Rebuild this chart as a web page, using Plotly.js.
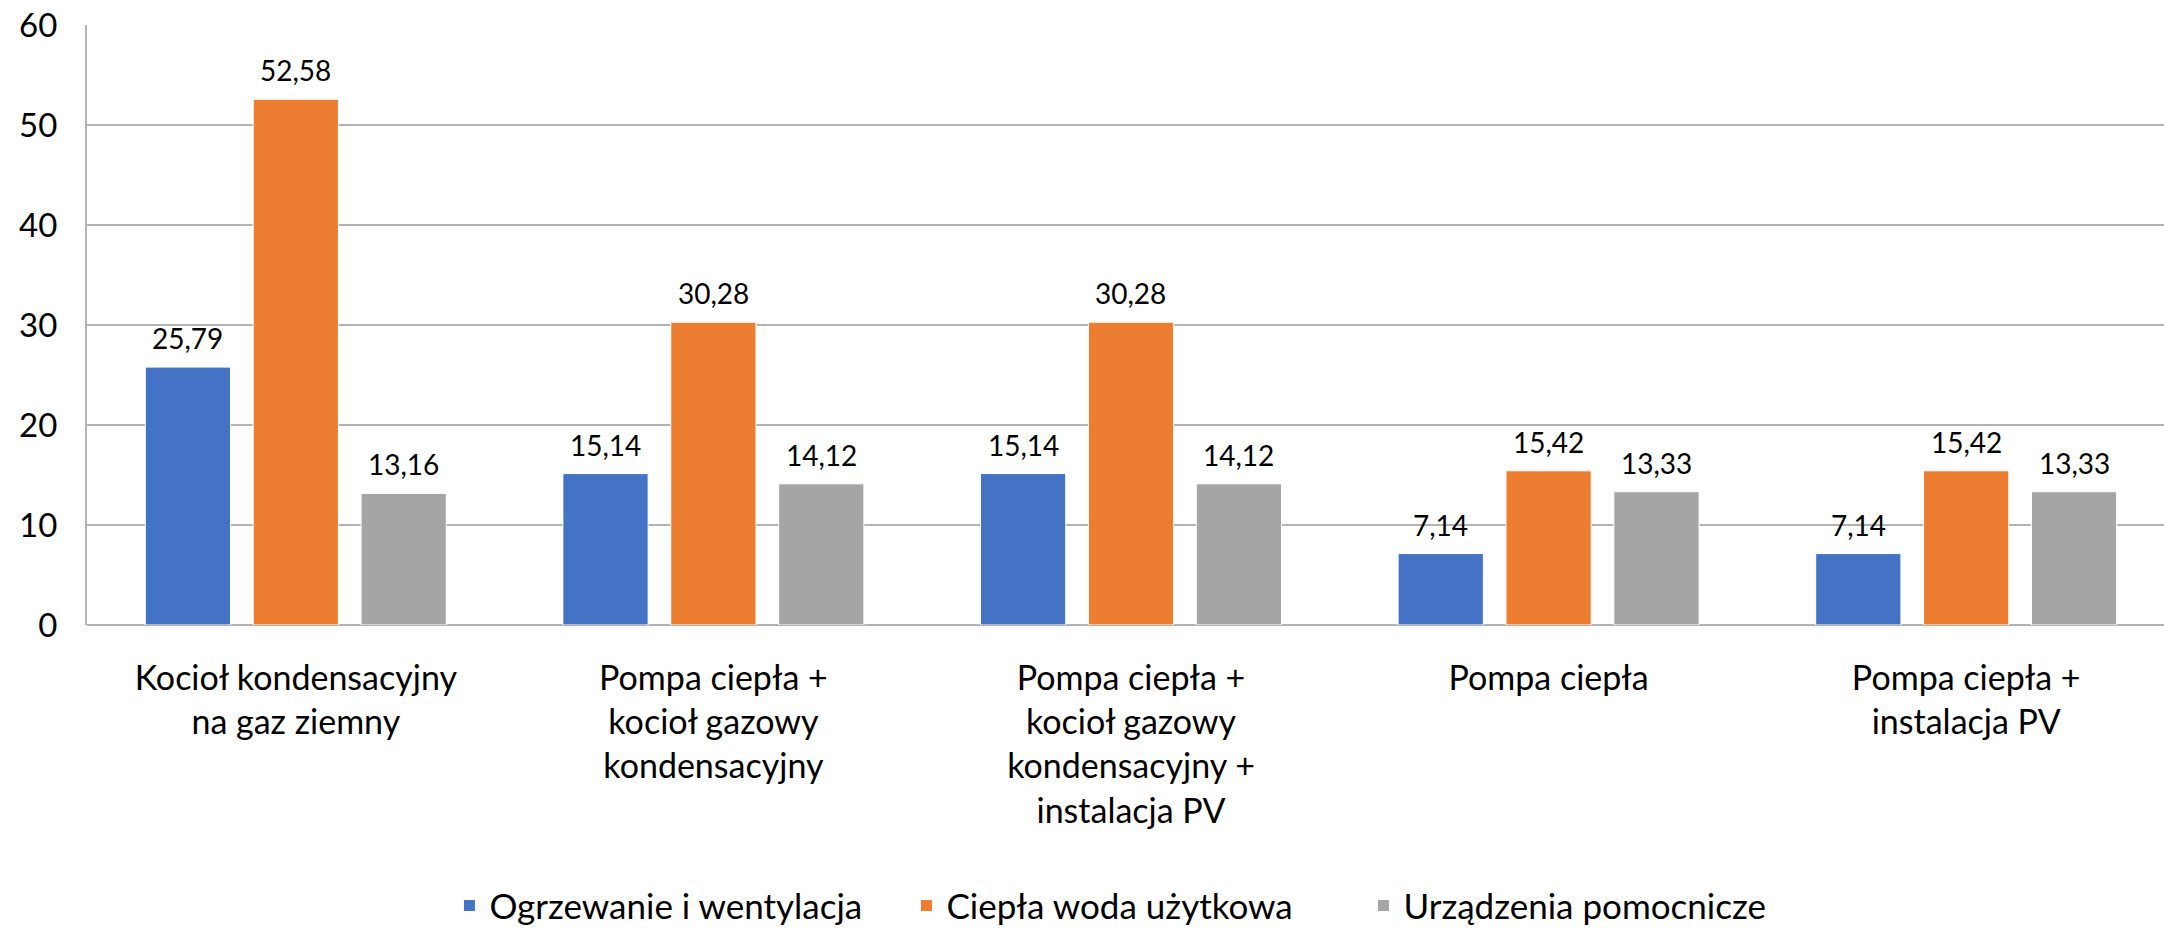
<!DOCTYPE html>
<html>
<head>
<meta charset="utf-8">
<script src="https://cdn.plot.ly/plotly-3.0.1.min.js"></script>
<style>
  html, body { margin: 0; padding: 0; background: #ffffff; }
  #chart { width: 2164px; height: 931px; }
</style>
</head>
<body>
<div id="chart"></div>
<script>
// Heating variants compared in the chart
const categories = [
  "Kocioł kondensacyjny<br>na gaz ziemny",
  "Pompa ciepła +<br>kocioł gazowy<br>kondensacyjny",
  "Pompa ciepła +<br>kocioł gazowy<br>kondensacyjny +<br>instalacja PV",
  "Pompa ciepła",
  "Pompa ciepła +<br>instalacja PV"
];

const seriesNames = ["Ogrzewanie i wentylacja", "Ciepła woda użytkowa", "Urządzenia pomocnicze"];

const ogrzewanie = [25.79, 15.14, 15.14, 7.14, 7.14];
const cieplaWoda = [52.58, 30.28, 30.28, 15.42, 15.42];
const pomocnicze = [13.16, 14.12, 14.12, 13.33, 13.33];

const yTicks = [0, 10, 20, 30, 40, 50, 60];

const seriesValues = [ogrzewanie, cieplaWoda, pomocnicze];
const seriesColors = ["#4472C4", "#ED7D31", "#A5A5A5"];

const FONT = "Lato, Carlito, Calibri, 'Open Sans', sans-serif";
const BARGAP = 0.225;
const BARGROUPGAP = 0.21;

const fmt = v => v.toFixed(2).replace(".", ",");

const traces = seriesValues.map((vals, i) => ({
  type: "bar",
  name: seriesNames[i],
  x: categories,
  y: vals,
  marker: { color: seriesColors[i], line: { color: "#ffffff", width: 1 } },
  hoverinfo: "skip"
}));

// Value labels above each bar, centred on that bar's slot within the group
const slot = (1 - BARGAP) / seriesValues.length;
const annotations = [];
seriesValues.forEach((vals, s) => {
  vals.forEach((v, c) => {
    annotations.push({
      xref: "x", yref: "y",
      x: c + (s - (seriesValues.length - 1) / 2) * slot,
      y: v,
      text: fmt(v),
      showarrow: false,
      xanchor: "center",
      yanchor: "bottom",
      yshift: 10,
      font: { family: FONT, size: 28, color: "#000000" }
    });
  });
});

const layout = {
  width: 2164,
  height: 931,
  margin: { l: 87, r: 0, t: 25, b: 306, autoexpand: false },
  paper_bgcolor: "#ffffff",
  plot_bgcolor: "#ffffff",
  font: { family: FONT, color: "#000000" },
  barmode: "group",
  bargap: BARGAP,
  bargroupgap: BARGROUPGAP,
  showlegend: true,
  legend: {
    orientation: "h",
    x: 0.1745, xanchor: "left",
    y: -0.468, yanchor: "middle",
    entrywidth: 412,
    entrywidthmode: "pixels",
    font: { family: FONT, size: 35, color: "#000000" },
    traceorder: "normal"
  },
  xaxis: {
    type: "category",
    range: [-0.5, 4.4737],
    showgrid: false,
    showline: false,
    zeroline: false,
    ticks: "",
    ticklabelstandoff: 30,
    tickfont: { family: FONT, size: 34, color: "#000000" },
    fixedrange: true
  },
  yaxis: {
    range: [0, 60],
    tickvals: yTicks,
    ticktext: yTicks.map(String),
    showgrid: true,
    gridcolor: "#b3b3b3",
    gridwidth: 2,
    showline: true,
    linecolor: "#b3b3b3",
    linewidth: 2,
    zeroline: true,
    zerolinecolor: "#b3b3b3",
    zerolinewidth: 2,
    ticks: "",
    ticklabelstandoff: 21,
    tickfont: { family: FONT, size: 33, color: "#000000" },
    fixedrange: true
  },
  annotations: annotations
};

Plotly.newPlot("chart", traces, layout, { displayModeBar: false, staticPlot: true });
</script>
</body>
</html>
